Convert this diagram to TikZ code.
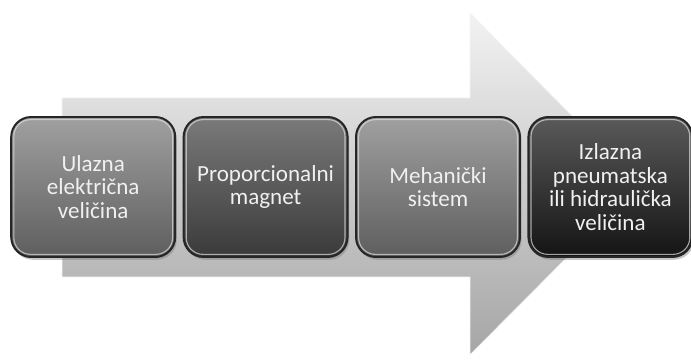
\documentclass[tikz,border=0pt]{standalone}
\usepackage{fontspec}
\setmainfont{Carlito}
\usepackage{tikz}
\usetikzlibrary{shadows}

\definecolor{sivaA}{HTML}{A0A0A0}
\definecolor{sivaB}{HTML}{5E5E5E}
\definecolor{sivaC}{HTML}{7A7A7A}
\definecolor{sivaD}{HTML}{3A3A3A}
\definecolor{sivaE}{HTML}{5A5A5A}
\definecolor{sivaF}{HTML}{141414}

\begin{document}
\begin{tikzpicture}[
      x=1cm, y=1cm,
      kutija/.style={draw=black!85, line width=1.4pt, rounded corners=0.5cm,
        minimum width=\W cm, minimum height=\H cm, align=center,
        text=white!94!black, font=\fontsize{16.4}{16.8}\selectfont,
        drop shadow={shadow xshift=0.04cm, shadow yshift=-0.07cm, opacity=0.45}},
      sjaj/.style={draw=white!75!gray, line width=0.8pt, rounded corners=0.42cm, opacity=0.7},
      strelica/.style={draw=white!92!gray, line width=0.6pt}
    ]
    \def\W{4.1}   % sirina kutije
    \def\H{3.5}   % visina kutije
    \def\D{4.31}  % razmak centara kutija
    \def\Y{4.4}   % visina centara kutija
    \useasboundingbox (0,0) rectangle (17.275,9.075);

    % ---------- velika strelica u pozadini ----------
    \shade[strelica, top color=white!90!gray, middle color=gray!45, bottom color=gray!70]
      (1.55,6.625) -- (11.75,6.625) -- (11.75,8.75) -- (16.0,4.475)
      -- (11.75,0.2) -- (11.75,2.15) -- (1.55,2.15) -- cycle;

    % ---------- cetiri kutije ----------
    \foreach \i/\oben/\unten/\txt in {
        1/sivaA/sivaB/{Ulazna\\električna\\veličina},
        2/sivaC/sivaD/{Proporcionalni\\magnet},
        3/sivaA/sivaB/{Mehanički\\sistem},
        4/sivaE/sivaF/{Izlazna\\pneumatska\\ili hidraulička\\veličina}}{
      \node[kutija, top color=\oben, bottom color=\unten] (k\i)
        at ({2.33+(\i-1)*\D},\Y) {\txt};
      \draw[sjaj] ([shift={(0.09,0.09)}]k\i.south west)
        rectangle ([shift={(-0.09,-0.09)}]k\i.north east);
    }
  \end{tikzpicture}
\end{document}
